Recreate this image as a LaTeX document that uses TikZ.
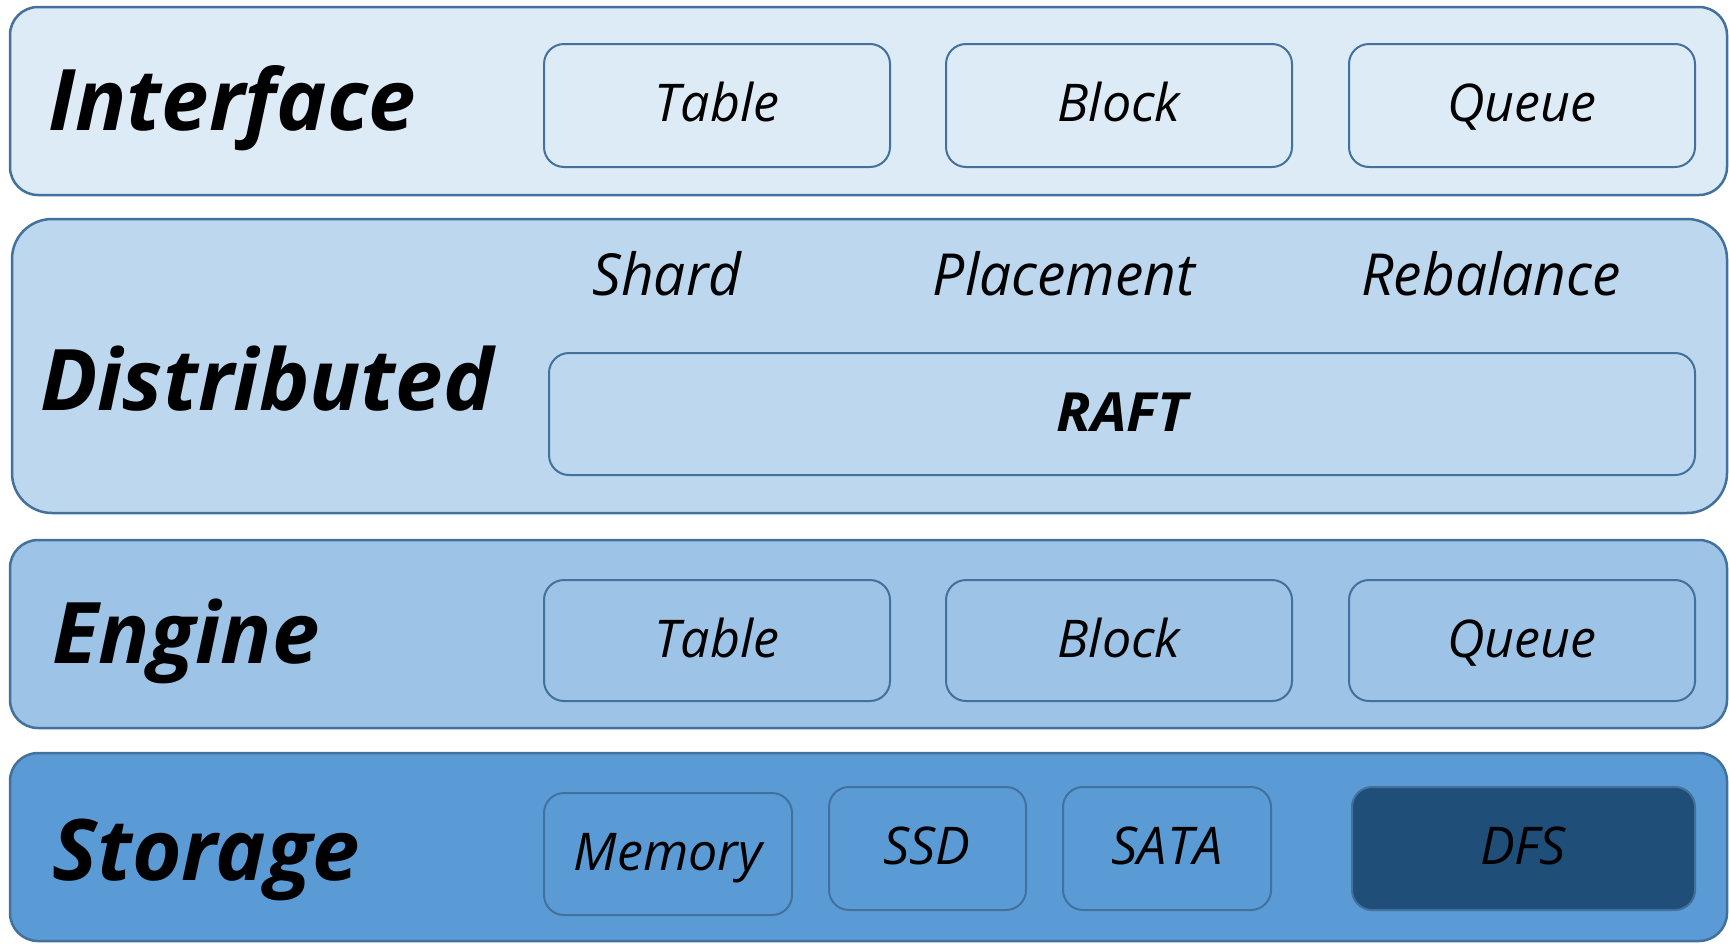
\documentclass[tikz,border=0pt]{standalone}
\usepackage{fontspec}
\setmainfont{Open Sans}
\usepackage{graphicx}
\definecolor{cIface}{HTML}{DDEBF7}
\definecolor{cDist}{HTML}{BDD7EE}
\definecolor{cEng}{HTML}{9DC3E6}
\definecolor{cStor}{HTML}{5B9BD5}
\definecolor{cDFS}{HTML}{1F4E79}
\definecolor{cLine}{HTML}{41719C}
\newcommand{\itx}[1]{\scalebox{1.0}[1]{\fontsize{52}{52}\selectfont\itshape #1}}
\newcommand{\btx}[1]{\scalebox{1.0}[1]{\fontsize{85}{85}\selectfont\bfseries\itshape #1}}
\newcommand{\mtx}[1]{\scalebox{0.98}[1]{\fontsize{58}{58}\selectfont\itshape #1}}
\newcommand{\rtx}[1]{\scalebox{1.05}[1]{\fontsize{54}{54}\selectfont\bfseries\itshape #1}}
\begin{document}
\begin{tikzpicture}[x=1pt,y=-1pt,
  layer/.style={draw=cLine,line width=2.5pt,rounded corners=28pt},
  item/.style={draw=cLine,line width=2pt,rounded corners=20pt},
  lbl/.style={anchor=base west,inner sep=0pt},
  txt/.style={anchor=base,inner sep=0pt}]
\useasboundingbox (0,0) rectangle (1729,943);
\fill[white] (0,0) rectangle (1729,943);
% layers
\draw[layer,fill=cIface] (10,7) rectangle (1727,195);
\draw[layer,fill=cDist,rounded corners=40pt] (12,219) rectangle (1727,513);
\draw[layer,fill=cEng] (10,540) rectangle (1727,728);
\draw[layer,fill=cStor] (10,753) rectangle (1727,941);
% interface
\node[lbl] (lIface) at (48,130) {\btx{Interface}};
\draw[item] (544,44) rectangle (890,167);
\draw[item] (946,44) rectangle (1292,167);
\draw[item] (1349,44) rectangle (1695,167);
\node[txt] (iTable) at (717,121) {\itx{Table}};
\node[txt] (iBlock) at (1119,121) {\itx{Block}};
\node[txt] (iQueue) at (1522,121) {\itx{Queue}};
% distributed
\node[lbl] (lDist) at (40,410) {\btx{Distributed}};
\node[txt] (dShard) at (667,295) {\mtx{Shard}};
\node[txt] (dPlace) at (1064,295) {\mtx{Placement}};
\node[txt] (dRebal) at (1491,295) {\mtx{Rebalance}};
\draw[item] (549,353) rectangle (1695,475);
\node[txt] (dRaft) at (1122,431) {\rtx{RAFT}};
% engine
\node[lbl] (lEng) at (52,663) {\btx{Engine}};
\draw[item] (544,580) rectangle (890,701);
\draw[item] (946,580) rectangle (1292,701);
\draw[item] (1349,580) rectangle (1695,701);
\node[txt] (eTable) at (717,657) {\itx{Table}};
\node[txt] (eBlock) at (1119,657) {\itx{Block}};
\node[txt] (eQueue) at (1522,657) {\itx{Queue}};
% storage
\node[lbl] (lStor) at (52,880) {\btx{Storage}};
\draw[item] (544,793) rectangle (792,915);
\draw[item] (829,787) rectangle (1026,910);
\draw[item] (1063,787) rectangle (1271,910);
\draw[item,fill=cDFS] (1352,787) rectangle (1695,910);
\node[txt] (sMem) at (668,870) {\itx{Memory}};
\node[txt] (sSSD) at (927,864) {\itx{SSD}};
\node[txt] (sSATA) at (1167,864) {\itx{SATA}};
\node[txt] (sDFS) at (1523,864) {\itx{DFS}};
\end{tikzpicture}
\end{document}
